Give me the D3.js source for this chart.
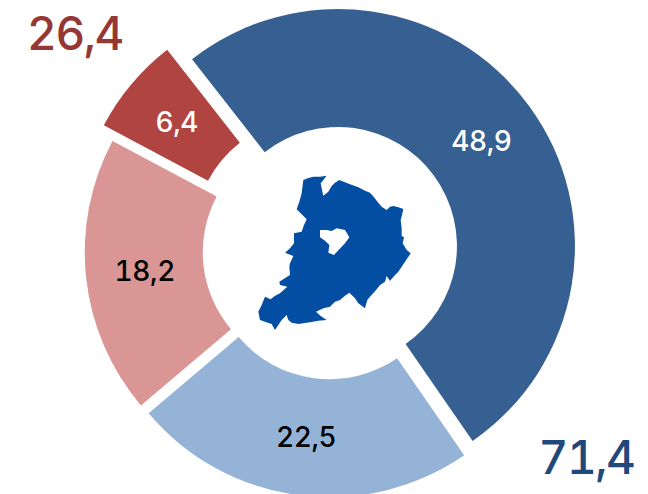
<!DOCTYPE html>
<html><head><meta charset="utf-8">
<script src="https://cdn.jsdelivr.net/npm/d3@7"></script>
<style>html,body{margin:0;background:#fff}svg{display:block}text{font-family:Inter,"Liberation Sans",Arial,sans-serif;font-weight:500;font-variant-numeric:tabular-nums}</style>
</head><body><svg id="c" width="648" height="494"></svg>
<script>
const categories = ["Blue strong","Blue light","Red light","Red strong"];
const seriesValues = [48.9,22.5,18.2,6.4];
const valueLabels = ["48,9","22,5","18,2","6,4"];
const sliceColors = ["#376092","#95B3D7","#D99694","#B04441"];
const labelColors = ["#fff","#000","#000","#fff"];
const totalLabels = ["26,4","71,4"];
const totalColors = ["#953735","#1F497D"];
// hand-traced outline of the territory pictogram (zoomed reference units)
const mapOutline = [[220,90],[235,84],[250,80],[270,80],[290,77],[280,90],[272,100],[276,120],[280,137],[295,125],[305,108],[315,98],[328,90],[345,97],[360,103],[385,112],[405,122],[420,128],[432,142],[440,152],[455,170],[470,180],[480,170],[490,168],[505,172],[520,177],[516,195],[512,210],[515,235],[515,258],[522,262],[518,280],[530,300],[542,310],[532,325],[525,335],[515,350],[505,365],[495,375],[480,392],[470,378],[465,395],[450,405],[438,420],[420,440],[412,450],[405,475],[385,460],[375,445],[358,428],[345,437],[330,450],[315,455],[300,470],[280,475],[258,485],[272,498],[290,510],[265,512],[240,517],[205,522],[185,518],[175,510],[170,495],[155,510],[135,540],[125,522],[105,515],[90,510],[85,485],[95,465],[105,440],[122,448],[135,437],[150,430],[172,410],[150,405],[148,395],[180,375],[178,350],[180,340],[190,318],[165,308],[180,295],[192,280],[192,250],[215,245],[222,225],[230,208],[212,190],[200,178],[208,155],[215,130]];
const mapHole = [[270,240],[290,240],[305,243],[320,235],[345,240],[358,262],[345,280],[335,290],[312,315],[295,308],[298,285],[285,272],[270,262]];

const cx=330.7,cy=251.3,R=237,r=119,labelR=178,offset=9,offsetTop=23;
const explode=[offset,offset,offset,offsetTop];
const svg=d3.select("#c");
const start=-38*Math.PI/180;
const pie=d3.pie().sort(null).startAngle(start).endAngle(start+2*Math.PI)(seriesValues);
const arc=d3.arc().innerRadius(r).outerRadius(R);
const lr=d3.arc().innerRadius(labelR).outerRadius(labelR);
const shift=d=>{const m=(d.startAngle+d.endAngle)/2,e=explode[d.index];return [cx+e*Math.sin(m),cy-e*Math.cos(m)];};
const g=svg.selectAll("g.s").data(pie).join("g").attr("class","s").attr("transform",d=>`translate(${shift(d)})`);
g.append("path").attr("d",arc).attr("fill",(d,i)=>sliceColors[i]);
g.append("text").attr("text-anchor","middle").attr("dominant-baseline","central")
 .attr("transform",d=>`translate(${lr.centroid(d)})`).attr("letter-spacing",-0.4)
 .attr("font-size",28).attr("fill",d=>labelColors[d.index]).text(d=>valueLabels[d.index]);
const totalPos=[[75,50],[586.5,474]];
svg.selectAll("text.t").data(totalLabels).join("text").attr("class","t")
 .attr("x",(d,i)=>totalPos[i][0]).attr("y",(d,i)=>totalPos[i][1]).attr("text-anchor","middle").attr("letter-spacing",-1.5)
 .attr("font-size",46).attr("fill",(d,i)=>totalColors[i]).text(d=>d);
const mx=d3.scaleLinear().domain([0,600]).range([230,430]),my=d3.scaleLinear().domain([0,600]).range([150,350]);
const ln=d3.line(d=>mx(d[0]),d=>my(d[1])).curve(d3.curveLinearClosed);
svg.append("path").attr("d",ln(mapOutline)+ln(mapHole)).attr("fill","#034EA2").attr("fill-rule","evenodd");
</script></body></html>
